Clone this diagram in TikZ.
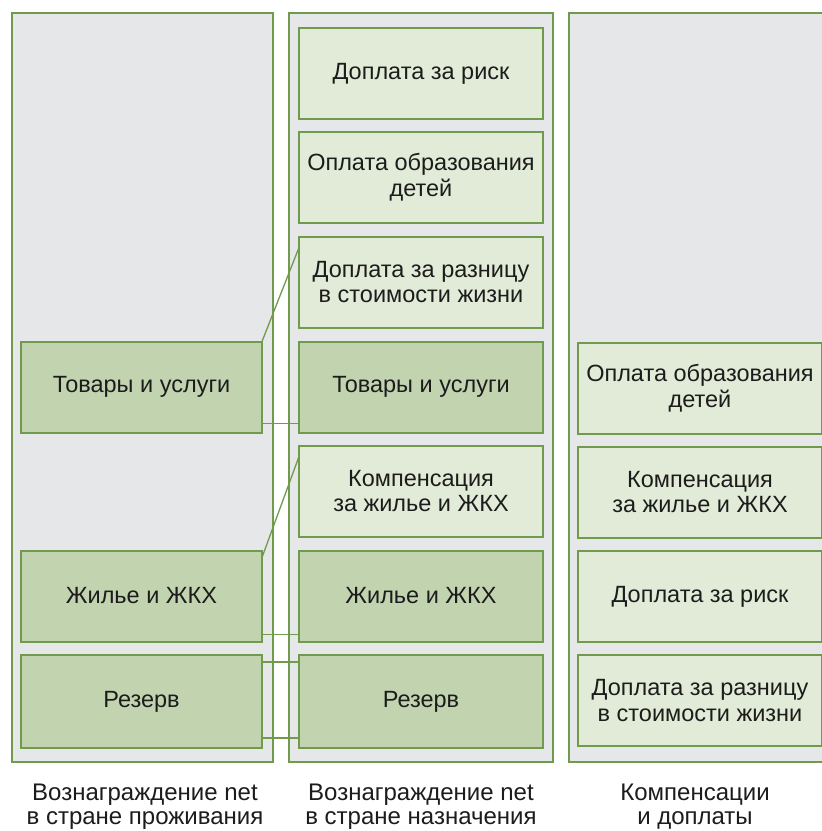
\documentclass[tikz,border=0pt]{standalone}
\usepackage{fontspec}
\setmainfont{Liberation Sans}
\begin{document}
\begin{tikzpicture}[x=1pt,y=-1pt,
  colbox/.style={draw=bordgreen,line width=2pt,fill=colgray,minimum width=#1,minimum height=749pt,inner sep=0pt,outer sep=0pt},
  lightbox/.style={draw=bordgreen,line width=2pt,fill=lightgreen,minimum width=#1,minimum height=91pt,inner sep=0pt,outer sep=0pt,align=center,font=\fontsize{23.5}{25.5}\selectfont,text=txtcol},
  darkbox/.style={lightbox=#1,fill=darkgreen},
  conn/.style={draw=bordgreen,line width=1.3pt},
  caption/.style={align=center,font=\fontsize{24}{24}\selectfont,text=txtcol,inner sep=0pt}]
\definecolor{bordgreen}{RGB}{112,155,76}
\definecolor{colgray}{RGB}{230,231,233}
\definecolor{lightgreen}{RGB}{226,235,216}
\definecolor{darkgreen}{RGB}{194,211,176}
\definecolor{txtcol}{RGB}{28,28,28}
\useasboundingbox (0,0) rectangle (822,831);
\begin{scope}
\clip (0,0) rectangle (822,831);
% columns
\node[colbox=261pt] (c1) at (142.5,387.5) {};
\node[colbox=264pt] (c2) at (421,387.5) {};
\node[colbox=264pt] (c3) at (701,387.5) {};
% column 1
\node[darkbox=241pt] (a4) at (141.5,387) {Товары и услуги};
\node[darkbox=241pt] (a6) at (141.5,596) {Жилье и ЖКХ};
\node[darkbox=241pt,minimum height=93pt] (a7) at (141.5,701.5) {Резерв};
% column 2
\node[lightbox=244pt] (b1) at (421,73.5) {Доплата за риск};
\node[lightbox=244pt] (b2) at (421,177) {Оплата образования\\детей};
\node[lightbox=244pt] (b3) at (421,282) {Доплата за разницу\\в стоимости жизни};
\node[darkbox=244pt] (b4) at (421,387) {Товары и услуги};
\node[lightbox=244pt] (b5) at (421,491) {Компенсация\\за жилье и ЖКХ};
\node[darkbox=244pt] (b6) at (421,596) {Жилье и ЖКХ};
\node[darkbox=244pt,minimum height=93pt] (b7) at (421,701.5) {Резерв};
% column 3
\node[lightbox=244pt] (d1) at (700,388) {Оплата образования\\детей};
\node[lightbox=244pt] (d2) at (700,492) {Компенсация\\за жилье и ЖКХ};
\node[lightbox=244pt] (d3) at (700,596.5) {Доплата за риск};
\node[lightbox=244pt] (d4) at (700,700.5) {Доплата за разницу\\в стоимости жизни};
\end{scope}
% connectors
\draw[conn] (a4.north east) -- ([yshift=-11pt]b3.north west);
\draw[conn] ([yshift=9pt]a4.south east) -- ([yshift=9pt]b4.south west);
\draw[conn] ([yshift=-7pt]a6.north east) -- ([yshift=-11pt]b5.north west);
\draw[conn] ([yshift=7pt]a6.south east) -- ([yshift=7pt]b6.south west);
\draw[conn] ([yshift=-7pt]a7.north east) -- ([yshift=-7pt]b7.north west);
\draw[conn] ([yshift=10pt]a7.south east) -- ([yshift=10pt]b7.south west);
% captions
\node[caption] (l1) at (145,806.5) {Вознаграждение net\\в стране проживания};
\node[caption] (l2) at (421,806.5) {Вознаграждение net\\в стране назначения};
\node[caption] (l3) at (695,806.5) {Компенсации\\и доплаты};
\end{tikzpicture}
\end{document}
